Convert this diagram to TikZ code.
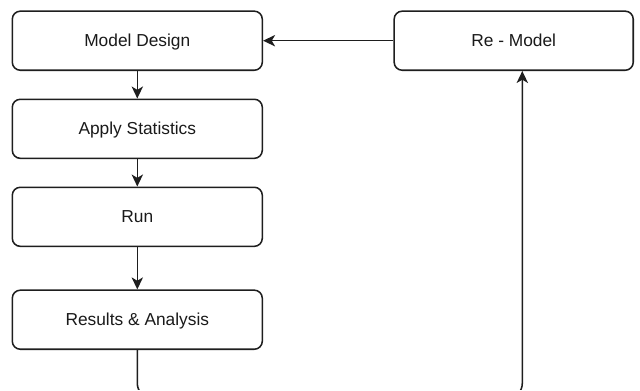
\documentclass[tikz,border=0pt]{standalone}
\usepackage{fontspec}
\setmainfont{Liberation Sans}
\usetikzlibrary{arrows.meta}
\definecolor{linec}{HTML}{1E1E1E}
\definecolor{textc}{HTML}{1A1A1A}
\begin{document}
\begin{tikzpicture}[x=0.75pt,y=-0.75pt,
  box/.style={draw=linec,line width=1.15pt,rounded corners=6pt,minimum width=187.5pt,minimum height=44.3pt,inner sep=0pt,text height=9.5pt,text depth=1.5pt,text=textc,font=\fontsize{13pt}{15pt}\selectfont},
  conn/.style={draw=linec,line width=1.15pt,-{Stealth[length=9pt,width=8.5pt,inset=2.5pt]}}]
\useasboundingbox (0,0) rectangle (640,390);
\begin{scope}
\clip (0,0) rectangle (640,389);
\fill[white] (0,-2) rectangle (640,392);
\node[box] (md) at (137.3,40.7) {Model Design};
\node[box] (as) at (137.3,128.8) {Apply Statistics};
\node[box] (run) at (137.3,216.8) {Run};
\node[box] (ra) at (137.3,319.7) {Results \& Analysis};
\node[box,minimum width=179.3pt] (rm) at (513.7,40.7) {Re - Model};
\draw[conn] (md) -- (as);
\draw[conn] (as) -- (run);
\draw[conn] (run) -- (ra);
\draw[conn] (rm) -- (md);
\coordinate (b1) at (137.3,398);
\coordinate (b2) at (522.3,398);
\draw[conn,rounded corners=11pt] (ra.south) -- (b1) -- (b2) -- (rm.south -| b2);
\end{scope}
\end{tikzpicture}
\end{document}
